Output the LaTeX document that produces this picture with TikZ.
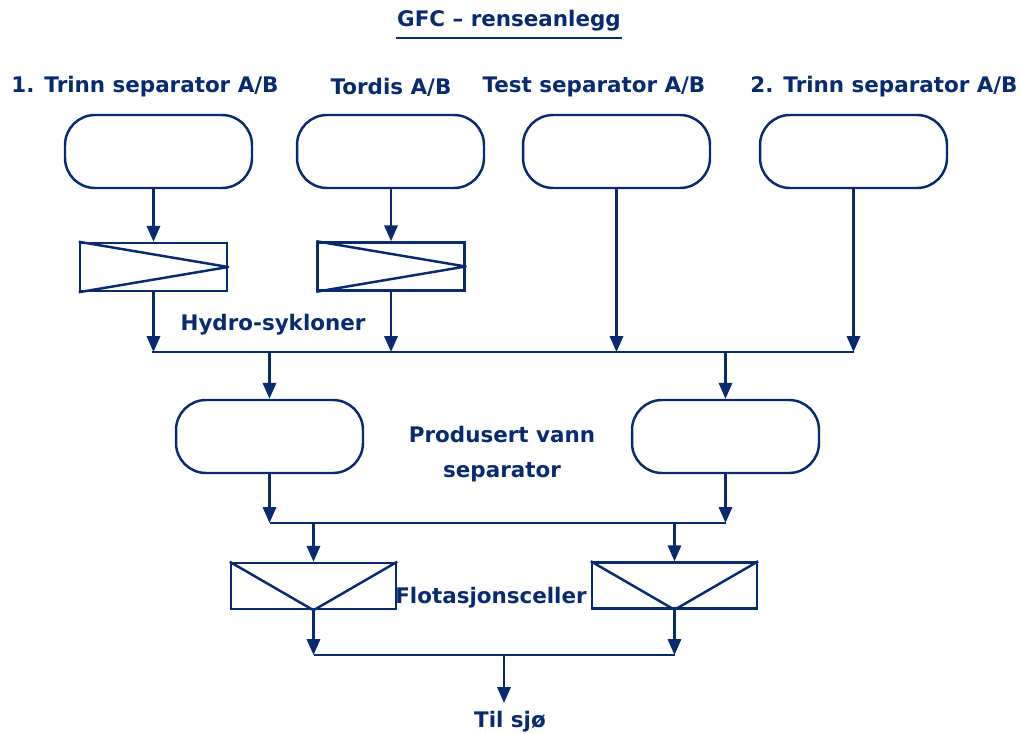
\documentclass[tikz,border=0pt]{standalone}
\usepackage{fontspec}
\setmainfont{DejaVu Sans}
\usetikzlibrary{arrows.meta}
\definecolor{navy}{RGB}{8,42,112}

\begin{document}
\begin{tikzpicture}[x=0.02cm,y=-0.02cm,>={Triangle[length=9pt,width=7.5pt]},
		line width=1.4pt,
		vessel/.style={draw=navy,rectangle,rounded corners=0.6cm,minimum width=3.74cm,minimum height=1.46cm},
		hydro/.style={draw=navy,rectangle,minimum width=2.94cm,minimum height=0.96cm},
		flot/.style={draw=navy,rectangle,minimum width=3.3cm,minimum height=0.92cm},
		lbl/.style={font=\bfseries\fontsize{12.2}{20}\selectfont,text=navy,inner sep=0pt,align=center},
		flow/.style={draw=navy,->},
		pipe/.style={draw=navy,line join=round}]
	\useasboundingbox (0,0) rectangle (1020,733);

	% tittel og navn
	\node[lbl] (title) at (509,21) {GFC – renseanlegg};
	\draw[pipe] ([yshift=-3pt]title.south west) -- ([yshift=-3pt]title.south east);
	\node[lbl] (t1) at (145,87) {1. Trinn separator A/B};
	\node[lbl] (t2) at (391,87) {Tordis A/B};
	\node[lbl] (t3) at (594,87) {Test separator A/B};
	\node[lbl] (t4) at (884,87) {2. Trinn separator A/B};

	% separatorer
	\node[vessel] (v1) at (158.5,151.5) {};
	\node[vessel] (v2) at (390.5,151.5) {};
	\node[vessel] (v3) at (616.5,151.5) {};
	\node[vessel] (v4) at (853.5,151.5) {};

	% hydrosykloner
	\node[hydro] (h1) at (153.5,267) {};
	\node[hydro] (h2) at (391,266.5) {};
	\foreach \h in {h1,h2}
		\draw[pipe] (\h.north west) -- (\h.east) -- (\h.south west);
	\node[lbl] (hl) at (273,325) {Hydro-sykloner};

	\coordinate (c1) at (152,352);
	\draw[flow] (v1.south -| h1.north) -- (h1.north);
	\draw[flow] (v2.south -| h2.north) -- (h2.north);
	\draw[flow] (h1.south) -- (h1.south |- c1);
	\draw[flow] (h2.south) -- (h2.south |- c1);
	\draw[flow] (v3.south) -- (v3.south |- c1);
	\draw[flow] (v4.south) -- (v4.south |- c1);
	\draw[pipe] (c1) -- (v4.south |- c1);

	% produsert vann separator
	\node[vessel] (p1) at (269.5,436.5) {};
	\node[vessel] (p2) at (725.5,436.5) {};
	\node[lbl] (pl) at (502,454) {Produsert vann\\separator};
	\draw[flow] (p1.north |- c1) -- (p1.north);
	\draw[flow] (p2.north |- c1) -- (p2.north);

	\coordinate (c2) at (268,523);
	\draw[flow] (p1.south) -- (p1.south |- c2);
	\draw[flow] (p2.south) -- (p2.south |- c2);
	\draw[pipe] (p1.south |- c2) -- (p2.south |- c2);

	% flotasjonsceller
	\node[flot] (f1) at (313.5,586) {};
	\node[flot] (f2) at (674.5,585.5) {};
	\foreach \f in {f1,f2}
		\draw[pipe] (\f.north west) -- (\f.south) -- (\f.north east);
	\node[lbl] (fl) at (491,598) {Flotasjonsceller};
	\draw[flow] (f1.north |- c2) -- (f1.north);
	\draw[flow] (f2.north |- c2) -- (f2.north);

	\coordinate (c3) at (314,655);
	\draw[flow] (f1.south) -- (f1.south |- c3);
	\draw[flow] (f2.south) -- (f2.south |- c3);
	\draw[pipe] (f1.south |- c3) -- (f2.south |- c3);

	% utløp
	\coordinate (c4) at (504,655);
	\coordinate (ut) at (504,703);
	\draw[flow] (c4) -- (ut);
	\node[lbl] (sjo) at (510,722) {Til sjø};
\end{tikzpicture}
\end{document}
